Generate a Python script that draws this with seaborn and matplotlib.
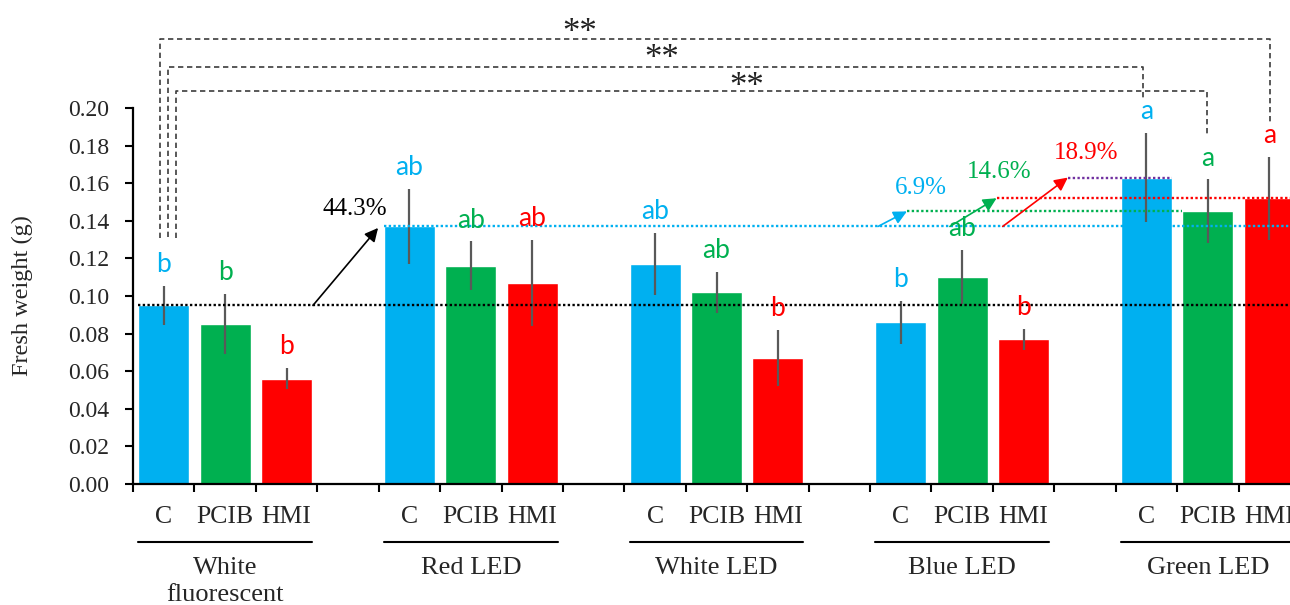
import numpy as np
import pandas as pd
import matplotlib
matplotlib.use("Agg")
import matplotlib.pyplot as plt
import matplotlib.transforms as mtransforms
import seaborn as sns

# ---- data -------------------------------------------------------------
lights = ["White\nfluorescent", "Red LED", "White LED", "Blue LED", "Green LED"]
treatments = ["C", "PCIB", "HMI"]

fw_c = [0.095, 0.137, 0.117, 0.086, 0.163]
fw_pcib = [0.085, 0.116, 0.102, 0.110, 0.145]
fw_hmi = [0.056, 0.107, 0.067, 0.077, 0.152]

se_c = [0.0103, 0.020, 0.0165, 0.0113, 0.0235]
se_pcib = [0.016, 0.013, 0.011, 0.0144, 0.017]
se_hmi = [0.0055, 0.023, 0.015, 0.0056, 0.022]

letters_c = ["b", "ab", "ab", "b", "a"]
letters_pcib = ["b", "ab", "ab", "ab", "a"]
letters_hmi = ["b", "ab", "b", "b", "a"]

pct_labels = ["44.3%", "6.9%", "14.6%", "18.9%"]
y_ticks = [0.00, 0.02, 0.04, 0.06, 0.08, 0.10, 0.12, 0.14, 0.16, 0.18, 0.20]

# ---- style ------------------------------------------------------------
sns.set_style("ticks")
plt.rcParams["font.family"] = ["Liberation Serif", "DejaVu Serif"]
BLUE, GREEN, RED, PURPLE = "#00B0F0", "#00B050", "#FF0000", "#7030A0"
palette = {"C": BLUE, "PCIB": GREEN, "HMI": RED}
ERR = "#595959"
DASH = "#3c3c3c"

values = {"C": fw_c, "PCIB": fw_pcib, "HMI": fw_hmi}
errors = {"C": se_c, "PCIB": se_pcib, "HMI": se_hmi}
letters = {"C": letters_c, "PCIB": letters_pcib, "HMI": letters_hmi}

rows = []
for g, light in enumerate(lights):
    for t, tr in enumerate(treatments):
        rows.append(dict(light=light, treatment=tr, pos=g * 4 + t + 0.5,
                         value=values[tr][g], err=errors[tr][g],
                         letter=letters[tr][g]))
df = pd.DataFrame(rows)

fig = plt.figure(figsize=(12.9, 6.05), dpi=100)
ax = fig.add_axes([133 / 1290, 121 / 605, 1167 / 1290, 376 / 605])

BW = 0.83
sns.barplot(data=df, x="pos", y="value", hue="treatment", palette=palette,
            native_scale=True, dodge=False, width=BW, errorbar=None,
            saturation=1, legend=False, ax=ax)

ax.errorbar(df["pos"], df["value"], yerr=df["err"], fmt="none",
            ecolor=ERR, elinewidth=1.6, capsize=0, zorder=4)

ax.set_xlim(0, 19)
ax.set_ylim(0, 0.20)
ax.set_yticks(y_ticks)
ax.set_yticklabels([f"{v:.2f}" for v in y_ticks], fontsize=17)
ax.set_ylabel("Fresh weight (g)", fontsize=17.5)
ax.yaxis.set_label_coords(-0.086, 0.5)

# slot boundary ticks (unlabelled) + treatment names under each bar
ax.set_xticks(np.arange(0, 20))
ax.set_xticklabels([])
ax.set_xticks(df["pos"], df["treatment"], minor=True, fontsize=18.5)
ax.tick_params(axis="x", which="minor", length=0, pad=16)
ax.tick_params(axis="both", which="major", length=6, width=1.5,
               color="black", direction="out")
ax.tick_params(axis="y", pad=11)
ax.set_xlabel("")
sns.despine(ax=ax)
for s in ("left", "bottom"):
    ax.spines[s].set_linewidth(1.6)
    ax.spines[s].set_color("black")

# significance letters
for _, r in df.iterrows():
    ax.annotate(r["letter"], xy=(r["pos"], r["value"] + r["err"]),
                xytext=(0, 10), textcoords="offset points", ha="center",
                va="baseline", fontsize=19, family=["Lato", "DejaVu Sans"],
                color=palette[r["treatment"]], zorder=6)

# group labels with underline
trans = mtransforms.blended_transform_factory(ax.transData, ax.transAxes)
for g, light in enumerate(lights):
    left = g * 4 + 0.5 - BW / 2
    right = g * 4 + 2.5 + BW / 2
    ax.plot([left, right], [-0.1535, -0.1535], transform=trans, color="black",
            lw=1.5, clip_on=False)
    ax.text(g * 4 + 1.5, -0.194, light, transform=trans, ha="center",
            va="top", fontsize=19, linespacing=1.3)

# reference levels (dotted)
dot = (0, (1, 1))
ax.plot([0.5 - BW / 2, 19], [fw_c[0]] * 2, color="black", lw=1.7, ls=dot,
        zorder=5)
ax.plot([4.5 - BW / 2, 19], [fw_c[1]] * 2, color=BLUE, lw=1.7, ls=dot, zorder=5)
ax.plot([12.6, 17.5 - BW / 2], [fw_pcib[4]] * 2, color=GREEN, lw=1.7, ls=dot,
        zorder=5)
ax.plot([14.06, 19], [fw_hmi[4]] * 2, color=RED, lw=1.7, ls=dot, zorder=5)
ax.plot([15.22, 16.5 + BW / 2], [fw_c[4]] * 2, color=PURPLE, lw=1.7, ls=dot,
        zorder=5)

# percentage arrows
arrows = [
    ((2.93, fw_c[0]), (3.99, 0.1362), "black", (3.61, 0.1463)),
    ((12.13, fw_c[1]), (12.6, fw_pcib[4]), BLUE, (12.83, 0.1575)),
    ((13.30, fw_c[1]), (14.06, fw_hmi[4]), GREEN, (14.11, 0.1658)),
    ((14.16, fw_c[1]), (15.22, fw_c[4]), RED, (15.52, 0.1759)),
]
for (start, end, col, tpos), lab in zip(arrows, pct_labels):
    ax.annotate("", xy=end, xytext=start,
                arrowprops=dict(arrowstyle="-|>", color=col, lw=1.2,
                                mutation_scale=20, shrinkA=0, shrinkB=0),
                zorder=6)
    ax.text(tpos[0], tpos[1], lab, ha="center", va="center", fontsize=18,
            color=col, zorder=6)

# significance brackets
brackets = [
    (0.44, 18.51, 0.2369, 0.1310, 0.1910, (7.28, 0.2395)),
    (0.57, 16.45, 0.2220, 0.1314, 0.2043, (8.61, 0.2257)),
    (0.70, 17.48, 0.2090, 0.1310, 0.1846, (9.99, 0.2108)),
]
dash = (0, (3.2, 2.2))
for x0, x1, ytop, yl, yr, (sx, sy) in brackets:
    ax.plot([x0, x0, x1, x1], [yl, ytop, ytop, yr], color=DASH, lw=1.2,
            ls=dash, clip_on=False, zorder=3)
    ax.text(sx, sy, "**", ha="center", va="center", fontsize=25,
            color="#222222", clip_on=False)

fig.savefig("out.png", dpi=100)
